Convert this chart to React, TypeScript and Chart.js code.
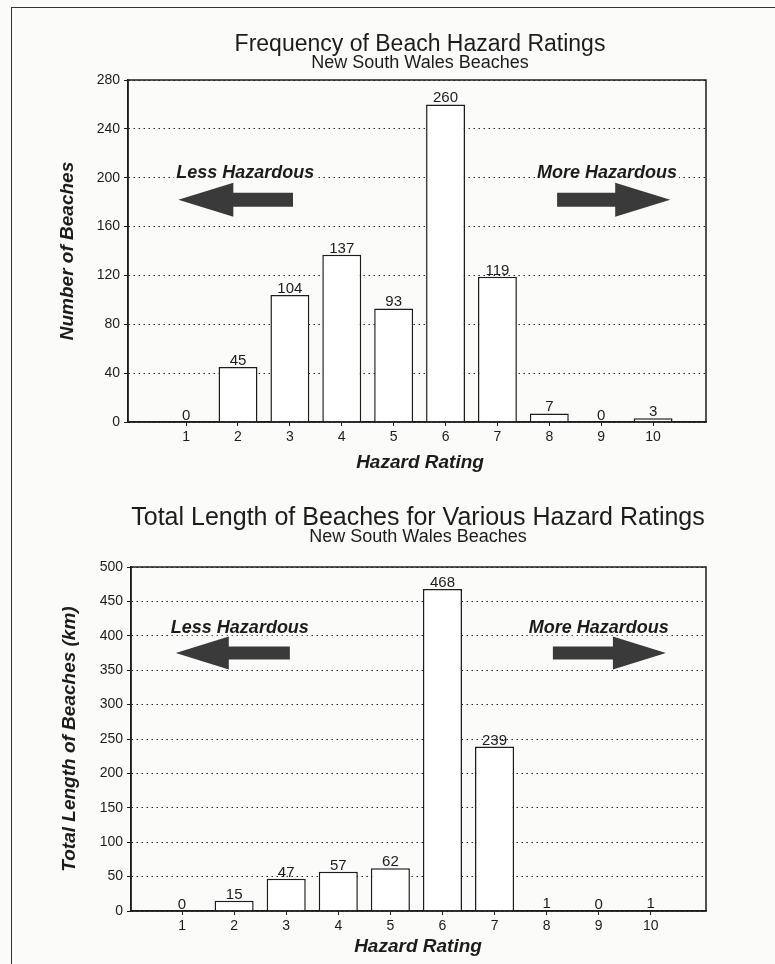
import React, { useEffect, useRef } from "react";
import { Chart, registerables } from "chart.js";

Chart.register(...registerables);

// ---------- data ----------
const hazardRatings = [1, 2, 3, 4, 5, 6, 7, 8, 9, 10];
const beachCounts = [0, 45, 104, 137, 93, 260, 119, 7, 0, 3];
const beachLengthsKm = [0, 15, 47, 57, 62, 468, 239, 1, 0, 1];
const countTicks = [0, 40, 80, 120, 160, 200, 240, 280];
const lengthTicks = [0, 50, 100, 150, 200, 250, 300, 350, 400, 450, 500];

const title1 = "Frequency of Beach Hazard Ratings";
const title2 = "Total Length of Beaches for Various Hazard Ratings";
const subtitle = "New South Wales Beaches";
const xTitle = "Hazard Rating";
const yTitle1 = "Number of Beaches";
const yTitle2 = "Total Length of Beaches (km)";
const lessText = "Less Hazardous";
const moreText = "More Hazardous";

const FONT = '"Liberation Sans", Arial, Helvetica, sans-serif';
const INK = "#1c1c1c";
const BG = "#fbfbf9";

function drawArrow(ctx: CanvasRenderingContext2D, tail: number, tip: number, yc: number, headLen: number, headHalf: number, shaftHalf: number) {
  const dir = tip > tail ? 1 : -1;
  const base = tip - dir * headLen;
  ctx.beginPath();
  ctx.moveTo(tail, yc - shaftHalf);
  ctx.lineTo(base, yc - shaftHalf);
  ctx.lineTo(base, yc - headHalf);
  ctx.lineTo(tip, yc);
  ctx.lineTo(base, yc + headHalf);
  ctx.lineTo(base, yc + shaftHalf);
  ctx.lineTo(tail, yc + shaftHalf);
  ctx.closePath();
  ctx.fill();
}

const decorPlugin = {
  id: "decor",
  afterDatasetsDraw(chart: any, _args: any, o: any) {
    const ctx: CanvasRenderingContext2D = chart.ctx;
    const { left, right, top, bottom } = chart.chartArea;
    const xs = chart.scales.x;
    const ys = chart.scales.y;
    ctx.save();
    // frame
    ctx.strokeStyle = INK;
    ctx.lineWidth = 1.5;
    ctx.strokeRect(left, top, right - left, bottom - top);

    // value labels
    const meta = chart.getDatasetMeta(0);
    ctx.fillStyle = INK;
    ctx.font = `15px ${FONT}`;
    ctx.textAlign = "center";
    ctx.textBaseline = "alphabetic";
    meta.data.forEach((el: any, i: number) => {
      const v = chart.data.datasets[0].data[i].y;
      ctx.fillText(String(v), el.x, el.y - 2);
    });

    // hazard annotations
    ctx.font = `italic bold 18px ${FONT}`;
    ctx.textBaseline = "middle";
    const ty = ys.getPixelForValue(o.textY);
    [
      [lessText, o.lessX],
      [moreText, o.moreX],
    ].forEach(([t, xv]: any) => {
      const cx = xs.getPixelForValue(xv);
      const w = ctx.measureText(t).width;
      ctx.fillStyle = BG;
      ctx.fillRect(cx - w / 2 - 2, ty - 9, w + 4, 16);
      ctx.fillStyle = INK;
      ctx.fillText(t, cx, ty);
    });
    ctx.fillStyle = "#3a3a3a";
    const ay = ys.getPixelForValue(o.arrowY);
    drawArrow(ctx, xs.getPixelForValue(o.leftArrow[1]), xs.getPixelForValue(o.leftArrow[0]), ay, o.headLen, o.headHalf, o.shaftHalf);
    drawArrow(ctx, xs.getPixelForValue(o.rightArrow[0]), xs.getPixelForValue(o.rightArrow[1]), ay, o.headLen, o.headHalf, o.shaftHalf);
    ctx.restore();
  },
  afterDraw(chart: any, _args: any, o: any) {
    const ctx: CanvasRenderingContext2D = chart.ctx;
    const { top, bottom } = chart.chartArea;
    ctx.save();
    ctx.fillStyle = INK;
    ctx.textAlign = "center";
    ctx.textBaseline = "middle";
    ctx.font = `${o.titleSize}px ${FONT}`;
    ctx.fillText(o.title, o.titleX, o.titleY);
    ctx.font = `18px ${FONT}`;
    ctx.fillText(subtitle, o.titleX, o.subY);
    ctx.font = `italic bold 19px ${FONT}`;
    ctx.fillText(xTitle, o.titleX, o.xTitleY);
    ctx.translate(o.yTitleX, (top + bottom) / 2);
    ctx.rotate(-Math.PI / 2);
    ctx.fillText(o.yTitle, 0, 0);
    ctx.restore();
  },
};

function makeConfig(values: number[], yTicks: number[], p: any) {
  return {
    type: "bar",
    data: {
      datasets: [
        {
          data: hazardRatings.map((r, i) => ({ x: r, y: values[i] })),
          backgroundColor: "#ffffff",
          borderColor: INK,
          borderWidth: 1.5,
          barPercentage: 0.75,
          categoryPercentage: 1,
        },
      ],
    },
    options: {
      responsive: false,
      animation: false,
      devicePixelRatio: 1,
      layout: { padding: { top: p.padTop, right: p.padRight, left: 0, bottom: 0 } },
      plugins: {
        legend: { display: false },
        title: { display: false },
        tooltip: { enabled: false },
        decor: p.decor,
      },
      scales: {
        x: {
          type: "linear",
          offset: false,
          min: p.xMin,
          max: p.xMax,
          afterBuildTicks: (s: any) => {
            s.ticks = hazardRatings.map((v) => ({ value: v }));
          },
          afterFit: (s: any) => {
            s.height = p.xAxisH;
          },
          ticks: { font: { family: FONT, size: 14 }, color: INK, padding: 3, autoSkip: false, maxRotation: 0 },
          grid: { offset: false, drawOnChartArea: false, drawTicks: true, tickLength: 4, color: INK, tickBorderDash: [] },
          border: { display: true, color: INK, width: 1.5 },
        },
        y: {
          min: 0,
          max: yTicks[yTicks.length - 1],
          afterBuildTicks: (s: any) => {
            s.ticks = yTicks.map((v) => ({ value: v }));
          },
          afterFit: (s: any) => {
            s.width = p.yAxisW;
          },
          ticks: { font: { family: FONT, size: 14 }, color: INK, padding: 4 },
          grid: { color: "#2a2a2a", lineWidth: 1, tickLength: 4, tickColor: INK, tickBorderDash: [] },
          border: { display: true, color: INK, width: 1.5, dash: [1.5, 3.5] },
        },
      },
    },
    plugins: [decorPlugin],
  };
}

function BarChart({ values, yTicks, params, width, height, top }: any) {
  const ref = useRef<HTMLCanvasElement>(null);
  useEffect(() => {
    if (!ref.current) return;
    const chart = new Chart(ref.current, makeConfig(values, yTicks, params) as any);
    return () => chart.destroy();
  }, []);
  return (
    <canvas
      ref={ref}
      width={width}
      height={height}
      style={{ position: "absolute", left: 0, top, width, height }}
    />
  );
}

export default function App() {
  const p1 = {
    padTop: 80,
    padRight: 69,
    xAxisH: 68,
    yAxisW: 128,
    xMin: -0.12,
    xMax: 11.02,
    decor: {
      title: title1,
      titleSize: 23,
      yTitle: yTitle1,
      titleX: 420,
      titleY: 45,
      subY: 63,
      xTitleY: 463,
      yTitleX: 68,
      lessX: 2.14,
      moreX: 9.11,
      textY: 204,
      arrowY: 182,
      leftArrow: [0.85, 3.06],
      rightArrow: [8.15, 10.33],
      headLen: 55,
      headHalf: 17,
      shaftHalf: 7,
    },
  };
  const p2 = {
    padTop: 77,
    padRight: 69,
    xAxisH: 53,
    yAxisW: 131,
    xMin: 0.02,
    xMax: 11.06,
    decor: {
      title: title2,
      titleSize: 25,
      yTitle: yTitle2,
      titleX: 418,
      titleY: 28,
      subY: 47,
      xTitleY: 457,
      yTitleX: 70,
      lessX: 2.11,
      moreX: 9.0,
      textY: 411,
      arrowY: 375,
      leftArrow: [0.88, 3.07],
      rightArrow: [8.12, 10.29],
      headLen: 53,
      headHalf: 16.5,
      shaftHalf: 6.5,
    },
  };
  return (
    <div style={{ position: "absolute", left: 0, top: 0, width: 775, height: 964, background: BG, overflow: "hidden" }}>
      <div
        style={{
          position: "absolute",
          left: 11,
          top: 7,
          width: 770,
          height: 960,
          borderLeft: "1.5px solid #333",
          borderTop: "1.5px solid #333",
        }}
      />
      <BarChart values={beachCounts} yTicks={countTicks} params={p1} width={775} height={490} top={0} />
      <BarChart values={beachLengthsKm} yTicks={lengthTicks} params={p2} width={775} height={474} top={490} />
    </div>
  );
}
